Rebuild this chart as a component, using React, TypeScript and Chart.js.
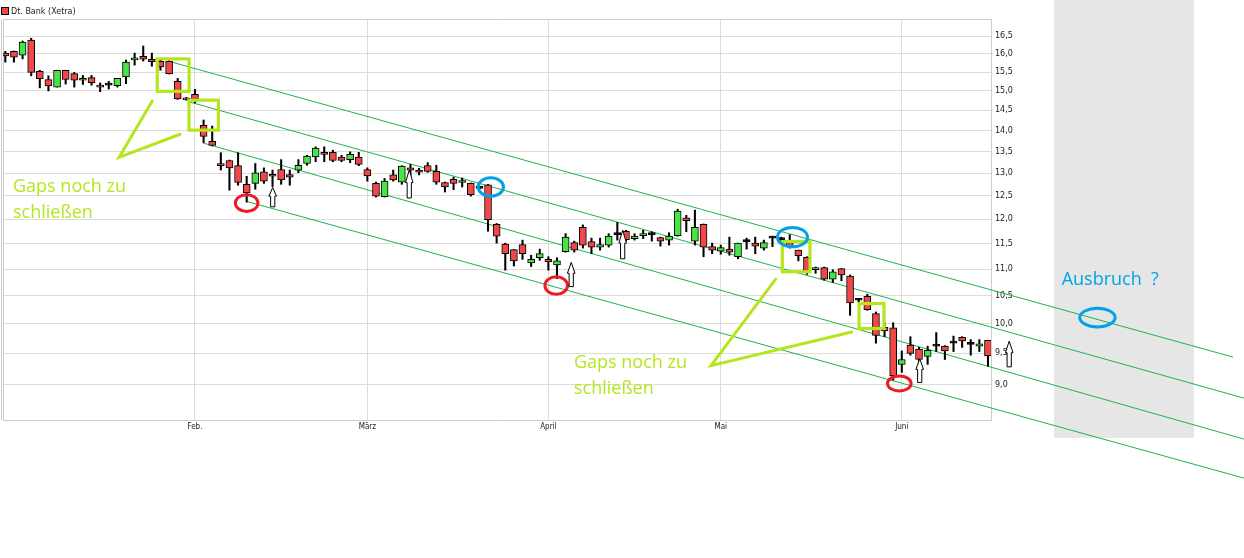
import React, { useEffect, useRef } from 'react';
import { Chart, registerables } from 'chart.js';

Chart.register(...registerables);

// ---- series: Dt. Bank (Xetra), daily candles, Jan - mid June ----
const seriesName = 'Dt. Bank (Xetra)';

const openPrices = [
  16.02, 16.07, 15.96, 16.39, 15.52, 15.30, 15.10, 15.55, 15.46, 15.28,
  15.35, 15.15, 15.15, 15.14, 15.37, 15.83, 15.93, 15.85, 15.79, 15.79,
  15.25, 14.82, 14.91, 14.13, 13.74, 13.21, 13.29, 13.17, 12.75, 12.77,
  13.03, 12.97, 13.08, 12.97, 13.07, 13.22, 13.37, 13.48, 13.48, 13.37,
  13.31, 13.37, 13.08, 12.77, 12.48, 12.96, 12.80, 13.12, 13.07, 13.17,
  13.04, 12.79, 12.86, 12.79, 12.77, 12.66, 12.74, 11.89, 11.49, 11.38,
  11.48, 11.12, 11.22, 11.19, 11.08, 11.34, 11.52, 11.83, 11.54, 11.43,
  11.47, 11.68, 11.75, 11.60, 11.66, 11.68, 11.62, 11.57, 11.66, 12.03,
  11.55, 11.89, 11.44, 11.35, 11.39, 11.24, 11.54, 11.51, 11.41, 11.61,
  11.58, 11.52, 11.37, 11.23, 10.99, 11.03, 10.81, 11.01, 10.87, 10.42,
  10.49, 10.18, 9.94, 9.93, 9.32, 9.64, 9.57, 9.45, 9.62, 9.62,
  9.67, 9.77, 9.65, 9.62, 9.72,
];
const highPrices = [
  16.07, 16.08, 16.36, 16.44, 15.55, 15.40, 15.55, 15.55, 15.49, 15.41,
  15.41, 15.21, 15.25, 15.33, 15.83, 16.02, 16.22, 16.02, 15.83, 15.81,
  15.33, 14.83, 15.04, 14.26, 14.11, 13.47, 13.30, 13.47, 12.93, 13.22,
  13.12, 13.07, 13.31, 13.07, 13.31, 13.41, 13.61, 13.61, 13.53, 13.41,
  13.49, 13.48, 13.12, 12.80, 12.88, 13.07, 13.17, 13.20, 13.11, 13.24,
  13.18, 12.80, 12.91, 12.89, 12.78, 12.68, 12.75, 11.91, 11.51, 11.38,
  11.57, 11.27, 11.39, 11.24, 11.22, 11.70, 11.55, 11.88, 11.61, 11.61,
  11.70, 11.93, 11.77, 11.70, 11.77, 11.74, 11.63, 11.72, 12.21, 12.08,
  12.19, 11.90, 11.51, 11.47, 11.63, 11.51, 11.61, 11.63, 11.57, 11.65,
  11.63, 11.68, 11.37, 11.24, 11.04, 11.04, 10.99, 11.01, 10.89, 10.45,
  10.53, 10.21, 10.03, 10.02, 9.54, 9.78, 9.60, 9.62, 9.85, 9.63,
  9.79, 9.78, 9.73, 9.73, 9.72,
];
const lowPrices = [
  15.77, 15.77, 15.86, 15.40, 15.08, 15.00, 15.10, 15.18, 15.10, 15.17,
  15.15, 14.98, 15.05, 15.10, 15.19, 15.69, 15.80, 15.66, 15.55, 15.45,
  14.78, 14.76, 14.69, 13.71, 13.63, 13.07, 12.62, 12.73, 12.36, 12.64,
  12.77, 12.70, 12.75, 12.73, 13.01, 13.18, 13.26, 13.26, 13.26, 13.26,
  13.24, 13.17, 12.82, 12.47, 12.47, 12.82, 12.75, 12.95, 12.96, 13.02,
  12.75, 12.58, 12.63, 12.69, 12.49, 12.64, 11.75, 11.51, 10.98, 11.06,
  11.19, 11.05, 11.17, 10.98, 10.82, 11.33, 11.33, 11.41, 11.30, 11.37,
  11.43, 11.57, 11.55, 11.57, 11.60, 11.55, 11.45, 11.47, 11.65, 11.74,
  11.47, 11.24, 11.30, 11.29, 11.27, 11.20, 11.39, 11.30, 11.37, 11.44,
  11.53, 11.41, 11.16, 10.90, 10.92, 10.79, 10.75, 10.78, 10.15, 10.38,
  10.24, 9.67, 9.78, 9.07, 9.19, 9.47, 9.32, 9.32, 9.53, 9.40,
  9.53, 9.60, 9.47, 9.53, 9.29,
];
const closePrices = [
  15.94, 15.91, 16.33, 15.49, 15.32, 15.13, 15.55, 15.30, 15.28, 15.33,
  15.22, 15.10, 15.15, 15.33, 15.77, 15.89, 15.85, 15.78, 15.64, 15.46,
  14.79, 14.77, 14.78, 13.86, 13.64, 13.17, 13.12, 12.79, 12.56, 13.01,
  12.82, 12.93, 12.85, 12.91, 13.18, 13.39, 13.58, 13.43, 13.29, 13.29,
  13.43, 13.20, 12.94, 12.49, 12.82, 12.85, 13.16, 13.07, 13.02, 13.04,
  12.80, 12.69, 12.77, 12.83, 12.52, 12.66, 11.99, 11.65, 11.30, 11.16,
  11.30, 11.19, 11.30, 11.14, 11.16, 11.63, 11.37, 11.47, 11.43, 11.48,
  11.65, 11.68, 11.58, 11.65, 11.70, 11.68, 11.55, 11.65, 12.17, 11.97,
  11.83, 11.43, 11.37, 11.42, 11.33, 11.51, 11.54, 11.45, 11.52, 11.61,
  11.58, 11.44, 11.26, 10.95, 11.01, 10.81, 10.95, 10.89, 10.37, 10.42,
  10.25, 9.80, 9.88, 9.14, 9.40, 9.50, 9.40, 9.55, 9.62, 9.54,
  9.67, 9.71, 9.65, 9.66, 9.46,
];

// x-axis: trading-day index of the first session of each month
const monthTickIndex = [22, 42, 63, 83, 104];
const monthLabels = ['Feb.', 'März', 'April', 'Mai', 'Juni'];
// y-axis ticks (log scale)
const priceTicks = [9.0, 9.5, 10.0, 10.5, 11.0, 11.5, 12.0, 12.5, 13.0, 13.5, 14.0, 14.5, 15.0, 15.5, 16.0, 16.5];

// ---- drawn annotations, in data units (trading-day index, price) ----
const channelLines = [
  [18.87, 15.80, 142.43, 9.438],
  [21.43, 14.71, 143.7, 8.788],
  [22.94, 13.70, 143.7, 8.183],
  [27.92, 12.38, 143.7, 7.646],
];
const breakoutZone = [121.66, 17.6, 137.9, 8.2];
const gapBoxes = [
  [17.63, 15.86, 21.32, 14.99],
  [21.31, 14.76, 24.72, 14.01],
  [90.14, 11.54, 93.35, 10.95],
  [99.04, 10.36, 101.94, 9.92],
];
const calloutLines = [
  [[17.05, 14.74], [13.19, 13.36], [20.27, 13.91]],
  [[89.37, 10.81], [81.87, 9.30], [98.19, 9.86]],
];
const redRings = [[28.0, 12.34], [63.91, 10.69], [103.71, 9.016]];
const blueRings = [[56.32, 12.69], [91.32, 11.63], [126.7, 10.11]];
const upArrows = [
  [31.02, 12.68, 12.26],
  [46.86, 13.07, 12.45],
  [65.65, 11.13, 10.67],
  [71.62, 11.77, 11.20],
  [106.08, 9.413, 9.031],
  [116.46, 9.704, 9.28],
];
const gapNotes = [
  [0.89, 12.57],
  [65.97, 9.254],
];
const gapNoteLines = ['Gaps noch zu', 'schließen'];
const breakoutNote = [122.55, 10.70];
const breakoutText = 'Ausbruch  ?';

// ---- styles ----
const RED = '#f04848';
const GREEN = '#48e448';
const LIME = '#b5e61d';
const RING_RED = '#ed1c24';
const RING_BLUE = '#00a2e8';
const LINE_GREEN = '#22b14c';
const GRID = '#dcdcdc';
const BORDER = '#cdcdcd';
const redRingSize = [[11.3, 8.4], [11.3, 8.8], [11.8, 7.5]];
const blueRingSize = [[12.7, 9.2], [15, 9.7], [17.7, 9.3]];

const overlayPlugin = {
  id: 'overlay',
  beforeDatasetsDraw(chart: any) {
    const { ctx, chartArea, scales } = chart;
    const xs = scales.x;
    const ys = scales.y;
    const X = (v: number) => xs.getPixelForValue(v);
    const Y = (v: number) => ys.getPixelForValue(v);
    ctx.save();
    // chart frame (top + left)
    ctx.strokeStyle = BORDER;
    ctx.lineWidth = 1;
    ctx.beginPath();
    ctx.moveTo(chartArea.left + 0.5, chartArea.bottom);
    ctx.lineTo(chartArea.left + 0.5, chartArea.top + 0.5);
    ctx.lineTo(chartArea.right, chartArea.top + 0.5);
    ctx.moveTo(chartArea.left - 1.5, chartArea.bottom);
    ctx.lineTo(chartArea.left - 1.5, chartArea.top + 0.5);
    ctx.stroke();
    // breakout zone
    const [bx0, bp0, bx1, bp1] = breakoutZone;
    ctx.fillStyle = '#e6e6e6';
    ctx.fillRect(X(bx0), Y(bp0), X(bx1) - X(bx0), Y(bp1) - Y(bp0));
    // channel lines
    ctx.strokeStyle = LINE_GREEN;
    ctx.lineWidth = 1;
    channelLines.forEach(([x0, p0, x1, p1]) => {
      ctx.beginPath();
      ctx.moveTo(X(x0), Y(p0));
      ctx.lineTo(X(x1), Y(p1));
      ctx.stroke();
    });
    ctx.restore();
  },
  afterDatasetsDraw(chart: any) {
    const { ctx, scales } = chart;
    const xs = scales.x;
    const ys = scales.y;
    const X = (v: number) => xs.getPixelForValue(v);
    const Y = (v: number) => ys.getPixelForValue(v);
    ctx.save();
    ctx.lineJoin = 'miter';
    // gap boxes
    ctx.strokeStyle = LIME;
    ctx.lineWidth = 3.2;
    gapBoxes.forEach(([x0, p0, x1, p1]) => {
      ctx.strokeRect(X(x0), Y(p0), X(x1) - X(x0), Y(p1) - Y(p0));
    });
    // callouts
    ctx.lineWidth = 3;
    ctx.lineCap = 'round';
    calloutLines.forEach((pts) => {
      ctx.beginPath();
      pts.forEach(([x, p], i) => (i === 0 ? ctx.moveTo(X(x), Y(p)) : ctx.lineTo(X(x), Y(p))));
      ctx.stroke();
    });
    // rings
    ctx.lineWidth = 3;
    ctx.strokeStyle = RING_RED;
    redRings.forEach(([x, p], i) => {
      ctx.beginPath();
      ctx.ellipse(X(x), Y(p), redRingSize[i][0], redRingSize[i][1], 0, 0, Math.PI * 2);
      ctx.stroke();
    });
    ctx.strokeStyle = RING_BLUE;
    blueRings.forEach(([x, p], i) => {
      ctx.beginPath();
      ctx.ellipse(X(x), Y(p), blueRingSize[i][0], blueRingSize[i][1], 0, 0, Math.PI * 2);
      ctx.stroke();
    });
    // arrows
    ctx.lineWidth = 1;
    ctx.strokeStyle = '#000';
    ctx.fillStyle = '#fff';
    ctx.lineCap = 'butt';
    upArrows.forEach(([x, pTop, pBottom]) => {
      const cx = X(x);
      const top = Y(pTop);
      const bottom = Y(pBottom);
      const headH = (bottom - top) * 0.45;
      const hw = 3.8;
      const sw = 2.1;
      ctx.beginPath();
      ctx.moveTo(cx, top);
      ctx.lineTo(cx + hw, top + headH);
      ctx.lineTo(cx + sw, top + headH);
      ctx.lineTo(cx + sw, bottom);
      ctx.lineTo(cx - sw, bottom);
      ctx.lineTo(cx - sw, top + headH);
      ctx.lineTo(cx - hw, top + headH);
      ctx.closePath();
      ctx.fill();
      ctx.stroke();
    });
    // notes
    ctx.font = '18px "Open Sans"';
    ctx.textBaseline = 'alphabetic';
    ctx.textAlign = 'left';
    ctx.fillStyle = LIME;
    gapNotes.forEach(([x, p]) => {
      gapNoteLines.forEach((t, i) => ctx.fillText(t, X(x), Y(p) + i * 25.5));
    });
    ctx.fillStyle = RING_BLUE;
    ctx.fillText(breakoutText, X(breakoutNote[0]), Y(breakoutNote[1]));
    ctx.restore();
  },
  afterDraw(chart: any) {
    const { ctx } = chart;
    ctx.save();
    ctx.fillStyle = RED;
    ctx.fillRect(2, 8, 6, 6);
    ctx.strokeStyle = '#000';
    ctx.lineWidth = 1;
    ctx.strokeRect(1.5, 7.5, 7, 7);
    ctx.fillStyle = '#222';
    ctx.font = '8px "DejaVu Sans"';
    ctx.textBaseline = 'middle';
    ctx.fillText(seriesName, 11, 11.5);
    ctx.restore();
  },
};

export default function App() {
  const ref = useRef<HTMLCanvasElement>(null);

  useEffect(() => {
    if (!ref.current) return;
    const idx = openPrices.map((_, i) => i);
    const bodyColors = idx.map((i) =>
      closePrices[i] > openPrices[i] ? GREEN : closePrices[i] < openPrices[i] ? RED : '#000'
    );
    const chart = new Chart(ref.current, {
      type: 'bar',
      data: {
        datasets: [
          {
            label: 'range',
            data: idx.map((i) => ({ x: i, y: [lowPrices[i], highPrices[i]] })) as any,
            backgroundColor: '#000',
            borderWidth: 0,
            barThickness: 1.4,
            grouped: false,
            order: 2,
          } as any,
          {
            label: seriesName,
            data: idx.map((i) => ({ x: i, y: [openPrices[i], closePrices[i]] })) as any,
            backgroundColor: bodyColors,
            borderColor: '#000',
            borderWidth: 1,
            borderSkipped: false,
            barThickness: 7,
            minBarLength: 2,
            grouped: false,
            order: 1,
          } as any,
        ],
      },
      options: {
        responsive: false,
        animation: false,
        devicePixelRatio: 1,
        events: [],
        layout: { padding: { left: 3, top: 19, right: 0, bottom: 0 } },
        plugins: { legend: { display: false }, tooltip: { enabled: false } },
        scales: {
          x: {
            type: 'linear',
            min: -0.27,
            max: 114.35,
            offset: false,
            grid: { offset: false, color: GRID, drawTicks: false },
            border: { color: BORDER },
            afterBuildTicks: (s: any) => {
              s.ticks = monthTickIndex.map((v) => ({ value: v }));
            },
            afterFit: (s: any) => {
              s.height = 138;
            },
            ticks: {
              autoSkip: false,
              maxRotation: 0,
              padding: 2,
              color: '#222',
              font: { family: '"Liberation Sans Narrow", "DejaVu Sans Condensed", sans-serif', size: 8 },
              callback: (_v: any, i: number) => monthLabels[i],
            },
          } as any,
          y: {
            type: 'logarithmic',
            position: 'right',
            min: 8.46,
            max: 17,
            bounds: 'data',
            grid: { color: GRID, drawTicks: false },
            border: { color: BORDER },
            afterBuildTicks: (s: any) => {
              s.ticks = priceTicks.map((v) => ({ value: v }));
            },
            afterFit: (s: any) => {
              s.width = 253;
            },
            ticks: {
              autoSkip: false,
              padding: 4,
              color: '#222',
              font: { family: '"DejaVu Sans"', size: 8 },
              callback: (v: any) => Number(v).toFixed(1).replace('.', ','),
            },
          } as any,
        },
      },
      plugins: [overlayPlugin],
    });
    return () => chart.destroy();
  }, []);

  return (
    <div style={{ position: 'absolute', left: 0, top: 0, width: 1244, height: 558, background: '#fff' }}>
      <canvas ref={ref} width={1244} height={558} style={{ display: 'block' }} />
    </div>
  );
}
